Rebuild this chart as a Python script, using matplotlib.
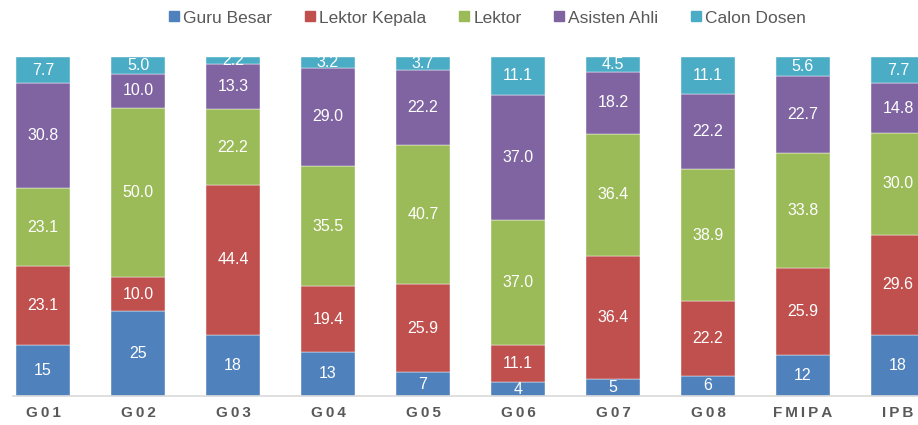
import matplotlib
matplotlib.use('Agg')
import matplotlib.pyplot as plt
from matplotlib.lines import Line2D
import numpy as np

plt.rcParams['font.family'] = ['Liberation Sans', 'DejaVu Sans']

# Data (percent share per faculty unit)
categories = ['G01', 'G02', 'G03', 'G04', 'G05', 'G06', 'G07', 'G08', 'FMIPA', 'IPB']
series_names = ['Guru Besar', 'Lektor Kepala', 'Lektor', 'Asisten Ahli', 'Calon Dosen']
guru_besar = [15, 25, 18, 13, 7, 4, 5, 6, 12, 18]
lektor_kepala = [23.1, 10.0, 44.4, 19.4, 25.9, 11.1, 36.4, 22.2, 25.9, 29.6]
lektor = [23.1, 50.0, 22.2, 35.5, 40.7, 37.0, 36.4, 38.9, 33.8, 30.0]
asisten_ahli = [30.8, 10.0, 13.3, 29.0, 22.2, 37.0, 18.2, 22.2, 22.7, 14.8]
calon_dosen = [7.7, 5.0, 2.2, 3.2, 3.7, 11.1, 4.5, 11.1, 5.6, 7.7]

colors = ['#4F81BD', '#C0504D', '#9BBB59', '#8064A2', '#4BACC6']
label_fmt = ['{:.0f}', '{:.1f}', '{:.1f}', '{:.1f}', '{:.1f}']

values = np.array([guru_besar, lektor_kepala, lektor, asisten_ahli, calon_dosen])
shares = values / values.sum(axis=0) * 100  # 100% stacked

W, H = 918, 425
fig = plt.figure(figsize=(W / 100, H / 100), dpi=100)

# plot area in pixels
left_px, right_px, top_px, bottom_px = 13, 918, 57, 396
ax = fig.add_axes([left_px / W, 1 - bottom_px / H,
                   (right_px - left_px) / W, (bottom_px - top_px) / H])

x = np.arange(len(categories))
bottoms = np.zeros(len(categories))
for i, name in enumerate(series_names):
    bars = ax.bar(x, shares[i], 0.56, bottom=bottoms, color=colors[i],
                  edgecolor='white', linewidth=0.3, label=name)
    for j, b in enumerate(bars):
        ax.text(x[j], bottoms[j] + shares[i][j] / 2, label_fmt[i].format(values[i][j]),
                ha='center', va='center', color='white', fontsize=11.5)
    bottoms += shares[i]

# x limits so that first category centre sits at 43 px, spacing 95 px
spacing = 95.0
ax.set_xlim((left_px - 43) / spacing, (right_px - 43) / spacing)
ax.set_ylim(0, 100)

ax.set_xticks(x)
ax.set_xticklabels(['\u2009'.join(c) for c in categories], fontsize=11,
                   fontweight='bold', color='#595959')
ax.tick_params(axis='x', length=0, pad=7)
ax.set_yticks([])
for s in ['top', 'right', 'left']:
    ax.spines[s].set_visible(False)
ax.spines['bottom'].set_color('#D9D9D9')
ax.spines['bottom'].set_linewidth(1.2)

handles = [Line2D([], [], marker='s', linestyle='', markersize=6.5,
                  markerfacecolor=c, markeredgecolor=c) for c in colors]
fig.legend(handles, series_names, loc='center', bbox_to_anchor=(487 / W, 1 - 18 / H),
           ncol=5, frameon=False, fontsize=12.5, handletextpad=0.2,
           handlelength=0.7, columnspacing=1.8, labelcolor='#595959')

plt.savefig('out.png', dpi=100)
plt.close(fig)
